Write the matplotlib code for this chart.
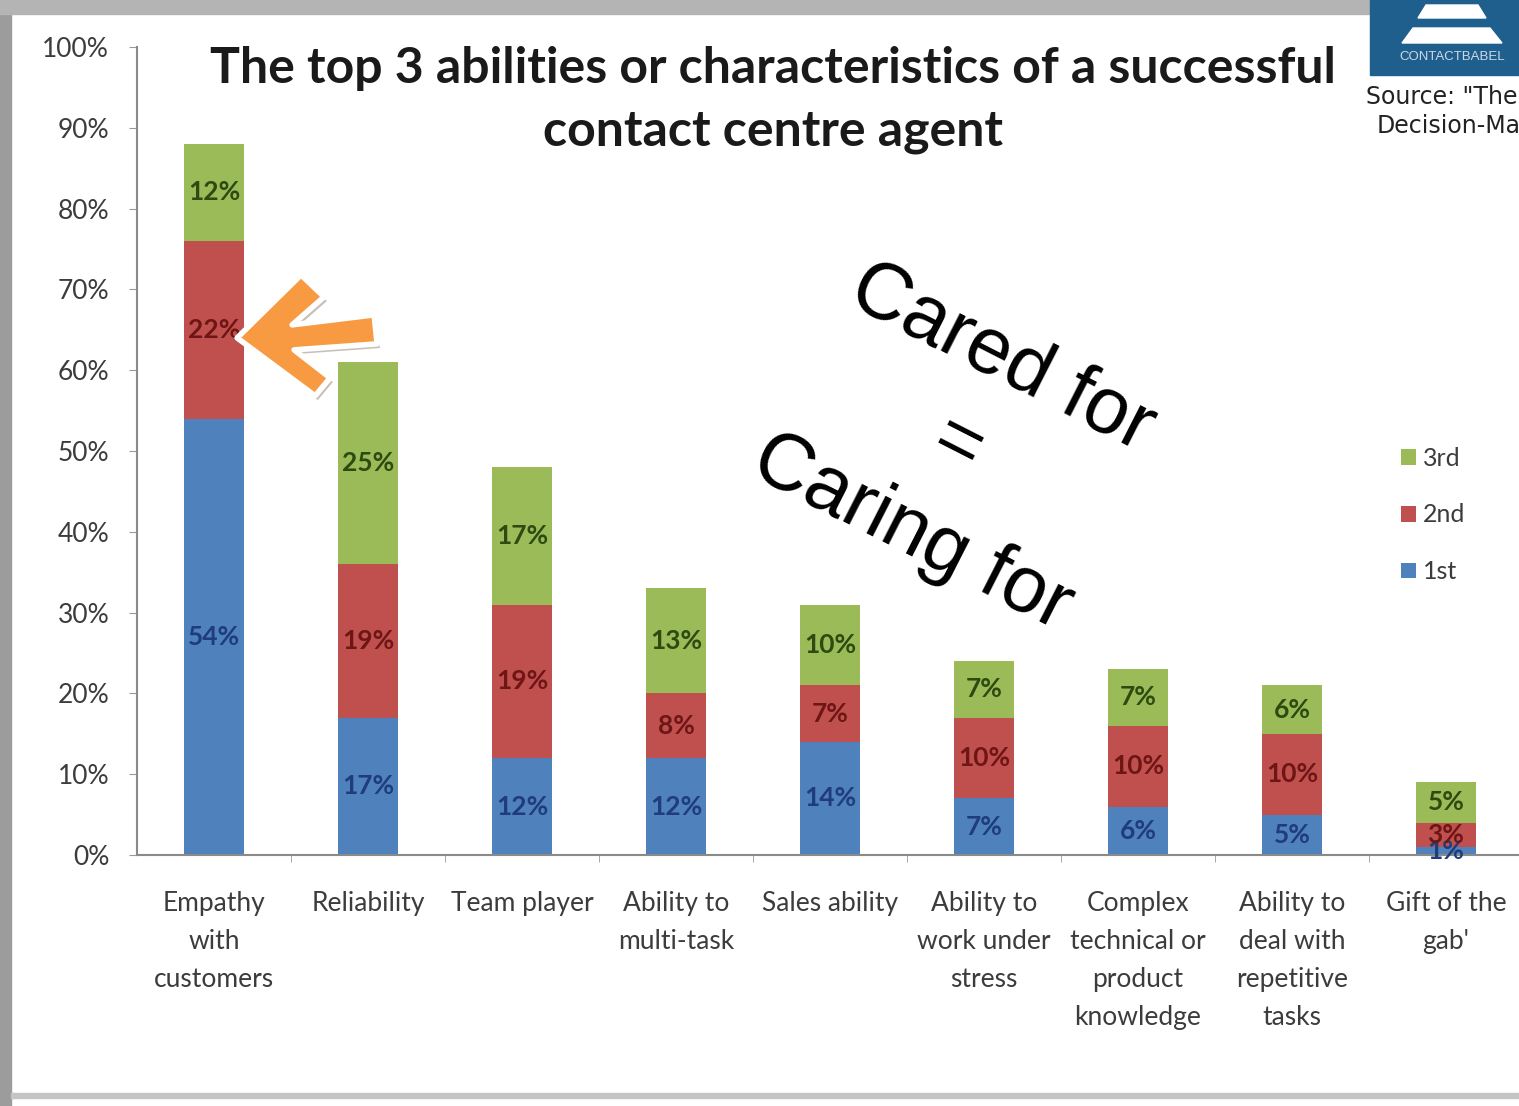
import numpy as np
import matplotlib
from matplotlib import pyplot as plt
from matplotlib.patches import Rectangle, Polygon
import matplotlib.patheffects as pe
import matplotlib.transforms as mtransforms

matplotlib.rcParams['font.family'] = ['Lato', 'DejaVu Sans']

#%% Data
categories = ['Empathy\nwith\ncustomers', 'Reliability', 'Team player', 'Ability to\nmulti-task',
              'Sales ability', 'Ability to\nwork under\nstress', 'Complex\ntechnical or\nproduct\nknowledge',
              'Ability to\ndeal with\nrepetitive\ntasks', "Gift of the\ngab'"]
first = [54, 17, 12, 12, 14, 7, 6, 5, 1]
second = [22, 19, 19, 8, 7, 10, 10, 10, 3]
third = [12, 25, 17, 13, 10, 7, 7, 6, 5]
series_names = ['1st', '2nd', '3rd']
yticks = np.arange(0, 101, 10)

colors = ['#4F81BD', '#C0504D', '#9BBB59']
label_colors = ['#1F3D7A', '#6E1616', '#2E4A10']
txt_gray = '#3c3c3c'

W, H = 1519, 1106
fig = plt.figure(figsize=(W/100, H/100), dpi=100)
fig.patch.set_facecolor('white')

#%% Frame around the slide
fig.patches.append(Rectangle((0, 0), 11/W, 1, transform=fig.transFigure, color='#9c9c9c', zorder=0))
fig.patches.append(Rectangle((0, 1-14/H), 1370/W, 14/H, transform=fig.transFigure, color='#b4b4b4', zorder=0))
fig.patches.append(Rectangle((11/W, 1-1098/H), 1, 5/H, transform=fig.transFigure, color='#c4c4c4', zorder=0))

#%% Chart
ax = fig.add_axes([137/W, 251/H, 1386/W, 808/H])
x = np.arange(len(categories))
bw = 0.39
bottom = np.zeros(len(categories))
bars = []
for vals, c, lc, name in zip([first, second, third], colors, label_colors, series_names):
    vals = np.array(vals)
    b = ax.bar(x, vals, bw, bottom=bottom, color=c, label=name, zorder=2)
    bars.append(b)
    for xi, v, b0 in zip(x, vals, bottom):
        ax.text(xi, b0+v/2, '%d%%' % v, ha='center', va='center', fontsize=19,
                fontweight='bold', color=lc, zorder=3)
    bottom += vals

ax.set_xlim(-0.5, len(categories)-0.5)
ax.set_ylim(0, 100)
ax.set_yticks(yticks)
ax.set_yticklabels(['%d%%' % t for t in yticks])
ax.set_xticks(x)
ax.set_xticklabels(categories, linespacing=1.65)
ax.set_xticks(np.arange(0.5, len(categories)-0.5), minor=True)
ax.tick_params(axis='x', which='major', length=0, pad=26, labelsize=19, labelcolor=txt_gray)
ax.tick_params(axis='x', which='minor', length=5, direction='out', color='#9a9a9a')
ax.tick_params(axis='y', length=6, direction='out', color='#9a9a9a', pad=14, labelsize=19, labelcolor=txt_gray)
for s in ['top', 'right']:
    ax.spines[s].set_visible(False)
for s in ['left', 'bottom']:
    ax.spines[s].set_color('#8a8a8a')
    ax.spines[s].set_linewidth(1.5)
ax.patch.set_alpha(0)

handles = [bars[2], bars[1], bars[0]]
ax.legend(handles, [series_names[2], series_names[1], series_names[0]], loc='center left',
          bbox_to_anchor=(1378/W, 1-515/H), bbox_transform=fig.transFigure, frameon=False,
          fontsize=18, labelcolor=txt_gray, handlelength=0.6, handleheight=0.6,
          handletextpad=0.3, labelspacing=1.35)

#%% Title
fig.text(773/W, 1-100/H, 'The top 3 abilities or characteristics of a successful\ncontact centre agent',
         ha='center', va='center', fontsize=36, fontweight='bold', color='#1a1a1a', linespacing=1.45)

#%% Arrow pointing at the 22% segment (outline in pixels, anchored at its tip)
tip = (0.15, 64.0)
arrow_px = np.array([(0, 0), (64, 63), (87, 41), (55, 13), (137, 23), (140, -6),
                     (57, -12), (93, -40), (78, -58)])
trans = fig.dpi_scale_trans + mtransforms.ScaledTranslation(tip[0], tip[1], ax.transData)
arr = Polygon(arrow_px/100.0, closed=True, transform=trans, facecolor='#F79A42',
              edgecolor='white', linewidth=4, joinstyle='round', zorder=5, clip_on=False)
arr.set_path_effects([pe.SimplePatchShadow(offset=(2, -3), alpha=0.3), pe.Normal()])
ax.add_patch(arr)

#%% Overlay text
fig.text(957/W, 1-446/H, 'Cared for\n=\nCaring for', rotation=-27, rotation_mode='anchor',
         ha='center', va='center', fontsize=57, family='Liberation Sans', color='black',
         linespacing=1.4, multialignment='center')

#%% Logo and source box
fig.patches.append(Rectangle((1370/W, 1-75/H), 150/W, 75/H, transform=fig.transFigure,
                             color='#1F5F8E', zorder=1))
fig.patches.append(Polygon([(1418/W, 1-18/H), (1486/W, 1-18/H), (1478/W, 1-5/H), (1426/W, 1-5/H)],
                           closed=True, transform=fig.transFigure, color='white', zorder=2))
fig.patches.append(Polygon([(1402/W, 1-43/H), (1502/W, 1-43/H), (1490/W, 1-28/H), (1413/W, 1-28/H)],
                           closed=True, transform=fig.transFigure, color='white', zorder=2))
fig.text(1452/W, 1-57/H, 'CONTACTBABEL', ha='center', va='center', fontsize=9.5,
         color='#cfd8e3', family='Liberation Sans')
fig.text(1366/W, 1-97/H, 'Source: "The', ha='left', va='center', fontsize=17,
         color='#222222', family='DejaVu Sans')
fig.text(1377/W, 1-126/H, 'Decision-Ma', ha='left', va='center', fontsize=17,
         color='#222222', family='DejaVu Sans')

fig.savefig('out.png', dpi=100)
